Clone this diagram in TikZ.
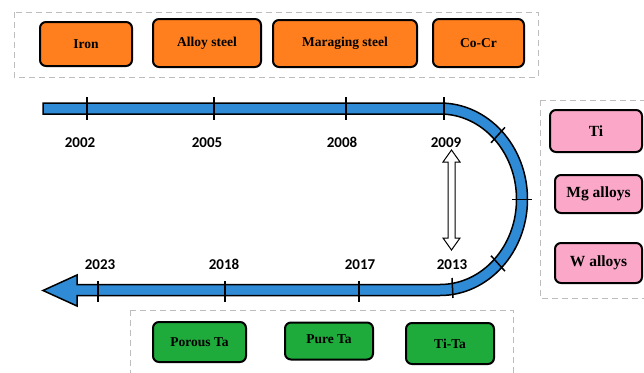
\documentclass[tikz,border=0pt]{standalone}
\usepackage{fontspec}
\usetikzlibrary{calc}
\setmainfont{Liberation Serif}
\newfontfamily\yearfont{Carlito}
\definecolor{orangebox}{HTML}{FF7F1E}
\definecolor{pinkbox}{HTML}{FBA8C8}
\definecolor{greenbox}{HTML}{1FAA3C}
\definecolor{bandblue}{HTML}{2F8BD6}
\definecolor{dashgray}{HTML}{BDBDBD}
\begin{document}
\begin{tikzpicture}[x=1pt,y=-1pt,
  group/.style={draw=dashgray,line width=1pt,dash pattern=on 6pt off 4pt},
  matbox/.style={draw=black,line width=2pt,rounded corners=6pt,inner sep=0pt,font=\bfseries\fontsize{13.5}{15}\selectfont},
  orangeb/.style={matbox,fill=orangebox},
  pinkb/.style={matbox,fill=pinkbox,font=\bfseries\fontsize{15.5}{17}\selectfont},
  greenb/.style={matbox,fill=greenbox},
  yearlbl/.style={font=\yearfont\bfseries\fontsize{15}{17}\selectfont,inner sep=0pt,anchor=base},
  tick/.style={line width=1.5pt,black}]
\useasboundingbox (0,0) rectangle (644,372);
% dashed groups
\draw[group] (14,12) rectangle (538,77);
\draw[group] (540,100) rectangle (650,298);
\draw[group] (130,310) rectangle (513,380);
% orange boxes
\node[orangeb,minimum width=92pt,minimum height=44pt] (iron) at (86,44) {Iron};
\node[orangeb,minimum width=108pt,minimum height=48pt] (alloy) at (207,43) {\raisebox{3pt}{Alloy steel}};
\node[orangeb,minimum width=144pt,minimum height=47pt] (mar) at (345,43.5) {Maraging steel};
\node[orangeb,minimum width=91pt,minimum height=48pt] (cocr) at (478.5,43) {Co-Cr};
% pink boxes
\node[pinkb,minimum width=92pt,minimum height=42pt] (ti) at (596,131) {Ti};
\node[pinkb,minimum width=87pt,minimum height=38pt] (mg) at (598.5,194) {Mg alloys};
\node[pinkb,minimum width=87pt,minimum height=40pt] (w) at (598.5,263) {W alloys};
% green boxes
\node[greenb,minimum width=93pt,minimum height=40pt] (porous) at (199.5,342) {Porous Ta};
\node[greenb,minimum width=88pt,minimum height=37pt] (pure) at (329,341) {\raisebox{3pt}{Pure Ta}};
\node[greenb,minimum width=88pt,minimum height=41pt] (tita) at (450,343.5) {Ti-Ta};
% timeline band
\draw[fill=bandblue,line width=1.5pt,line join=miter]
  (43,103) -- (440,103) arc[start angle=-90,end angle=90,x radius=87.5,y radius=96.25]
  -- (77,295.5) -- (77,306) -- (43,290.5) -- (77,275) -- (77,284.5)
  -- (440,284.5) arc[start angle=90,end angle=-90,x radius=76.5,y radius=85.25]
  -- (43,114) -- cycle;
% ticks
\coordinate (cc) at (440,199.25);
\foreach \x in {87,214,346,444} \draw[tick] (\x,97) -- (\x,120);
\foreach \x in {98,225,359} \draw[tick] (\x,281) -- (\x,302);
\draw[tick] (452,278) -- (453,298);
\foreach \t in {-45,0,45}
  \draw[tick] ($(cc)+({0.88*82*cos(\t)},{0.88*90.75*sin(\t)})$) -- ($(cc)+({1.12*82*cos(\t)},{1.12*90.75*sin(\t)})$);
% year labels
\node[yearlbl] (y2002) at (80,147) {2002};
\node[yearlbl] (y2005) at (207,147) {2005};
\node[yearlbl] (y2008) at (342,147) {2008};
\node[yearlbl] (y2009) at (446,147) {2009};
\node[yearlbl] (y2023) at (100,269) {2023};
\node[yearlbl] (y2018) at (224,269) {2018};
\node[yearlbl] (y2017) at (360,269) {2017};
\node[yearlbl] (y2013) at (452,269) {2013};
% double arrow
\coordinate (da) at (451.5,150);
\coordinate (db) at (451.5,250);
\draw[fill=white,line width=1pt,line join=miter]
  (da) -- ++(8.5,12) -- ++(-5,0) -- ++(0,76) -- ++(5,0) -- (db) -- ++(-8.5,-12) -- ++(5,0) -- ++(0,-76) -- ++(-5,0) -- cycle;
\end{tikzpicture}
\end{document}
